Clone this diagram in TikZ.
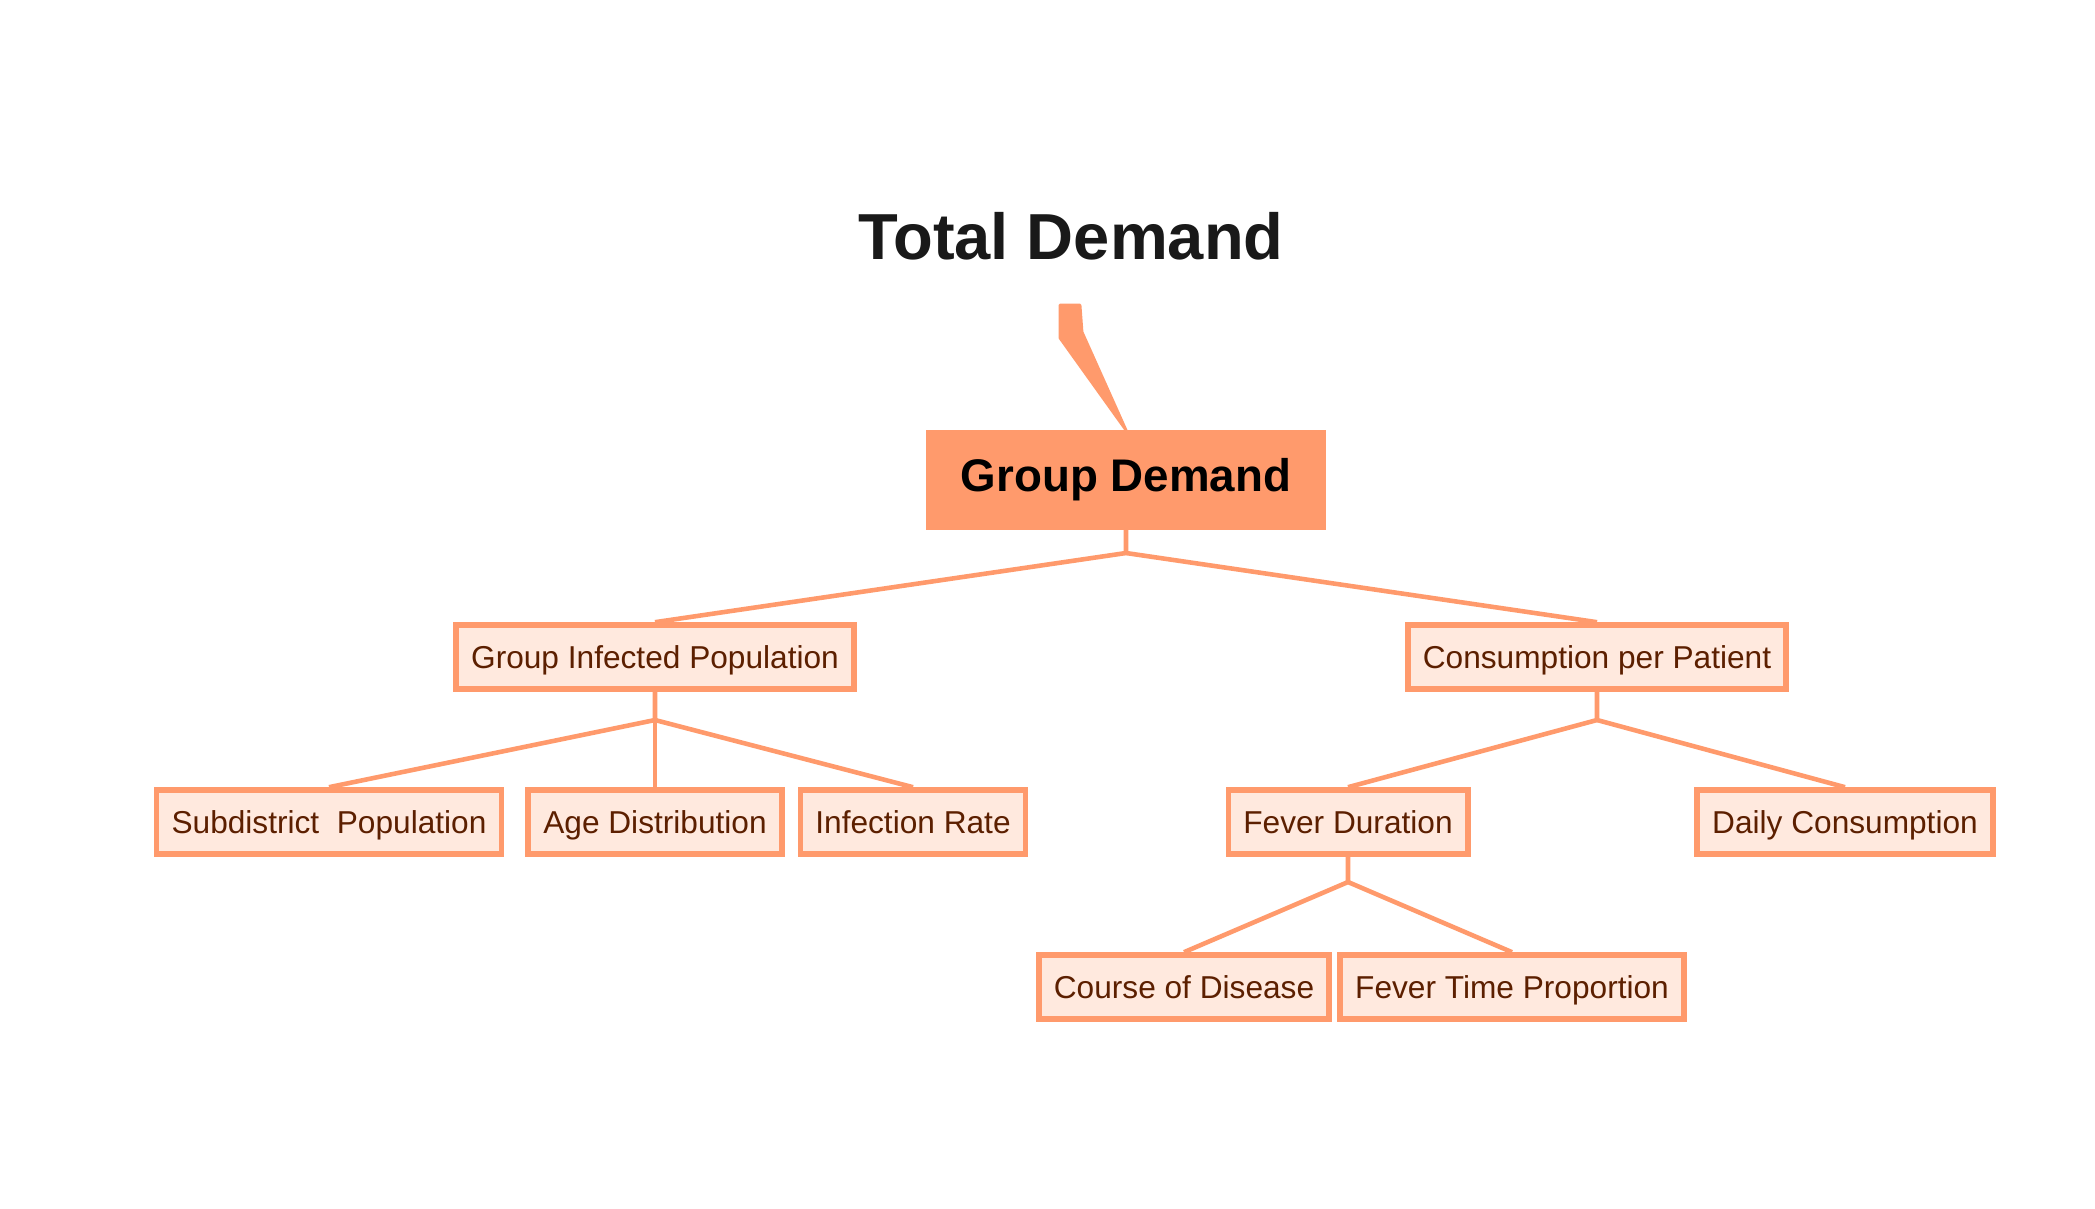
\documentclass[tikz,border=0pt]{standalone}
\usepackage{fontspec}
\setmainfont{Liberation Sans}
\definecolor{salmon}{HTML}{FF9A6C}
\definecolor{peach}{HTML}{FFE9DE}
\definecolor{brownink}{HTML}{5C1F00}
\begin{document}
\begin{tikzpicture}[x=0.01cm,y=-0.01cm,
  leaf/.style={draw=salmon,line width=1.6pt,fill=peach,text=brownink,
    font=\fontsize{9}{11}\selectfont,inner xsep=0.15cm,inner ysep=0pt,
    text height=0.72em,text depth=0.04em,minimum height=0.64cm},
  root/.style={draw=salmon,line width=1.6pt,fill=salmon,text=black,
    font=\fontsize{13}{15}\selectfont\bfseries,inner xsep=0.32cm,inner ysep=0pt,
    text height=0.72em,text depth=0.04em,minimum height=0.94cm},
  link/.style={draw=salmon,line width=1.3pt,line join=round}]
   \fill[white] (0,0) rectangle (2095,1208);
   \useasboundingbox (0,0) rectangle (2095,1208);
   \node[font=\fontsize{18.5}{22}\selectfont\bfseries,text=black!90] (total) at (1071,236) {Total Demand};
   \node[root] (gd) at (1126,480) {Group Demand};
   \fill[salmon,draw=salmon,line width=0.8pt,line join=round]
     (1060,305) -- (1080,305) -- (1082,332) -- (gd.north) -- (1060,338) -- cycle;
   \node[leaf] (gip) at (655,657) {Group Infected Population};
   \node[leaf] (cpp) at (1597,657) {Consumption per Patient};
   \node[leaf] (sp) at (329,822) {Subdistrict\ \ Population};
   \node[leaf] (ad) at (655,822) {Age Distribution};
   \node[leaf] (ir) at (913,822) {Infection Rate};
   \node[leaf] (fd) at (1348,822) {Fever Duration};
   \node[leaf] (dc) at (1845,822) {Daily Consumption};
   \node[leaf] (cd) at (1184,987) {Course of Disease};
   \node[leaf] (ftp) at (1512,987) {Fever Time Proportion};
   \coordinate (j0) at (1126,553);
   \coordinate (j1) at (655,720);
   \coordinate (j2) at (1597,720);
   \coordinate (j3) at (1348,882);
   \draw[link] (gd.south) -- (j0) -- (gip.north);
   \draw[link] (j0) -- (cpp.north);
   \draw[link] (gip.south) -- (j1) -- (sp.north);
   \draw[link] (j1) -- (ad.north);
   \draw[link] (j1) -- (ir.north);
   \draw[link] (cpp.south) -- (j2) -- (fd.north);
   \draw[link] (j2) -- (dc.north);
   \draw[link] (fd.south) -- (j3) -- (cd.north);
   \draw[link] (j3) -- (ftp.north);
\end{tikzpicture}
\end{document}
